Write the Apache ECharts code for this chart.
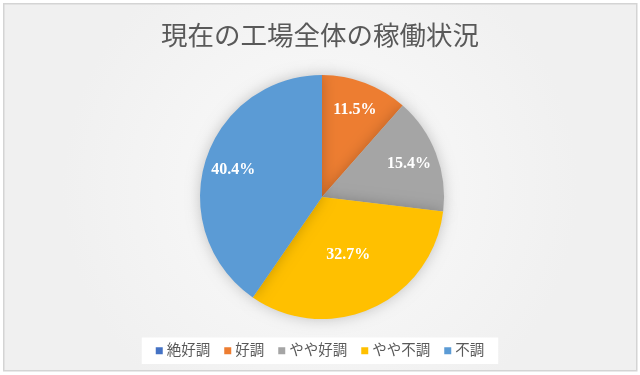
<!DOCTYPE html>
<html><head><meta charset="utf-8">
<script src="https://cdn.jsdelivr.net/npm/echarts@6/dist/echarts.min.js"></script>
<style>html,body{margin:0;padding:0;background:#fff}#c{width:640px;height:375px}</style>
</head><body><div id="c"></div>
<script>
const titleText = '現在の工場全体の稼働状況';
const categories = ['絶好調', '好調', 'やや好調', 'やや不調', '不調'];
const values = [0, 11.5, 15.4, 32.7, 40.4];
const colors = ['#4472C4', '#ED7D31', '#A5A5A5', '#FFC000', '#5B9BD5'];
// label placement: which items get their label near the centre (Excel best-fit)
const innerLabel = [false, false, false, true, false];

const serif = '"Liberation Serif", "DejaVu Serif", "Noto Sans CJK JP", serif';
const chart = echarts.init(document.getElementById('c'));
const fmt = p => p.value > 0 ? p.value.toFixed(1) + '%' : '';
const labelStyle = {color: '#fff', fontFamily: serif, fontWeight: 'bold', fontSize: 16};

chart.setOption({
  animation: false,
  graphic: [{
    type: 'rect', left: 3, top: 3, z: -10,
    shape: {width: 633, height: 367},
    style: {
      fill: new echarts.graphic.RadialGradient(0.5, 0.5, 0.7, [
        {offset: 0, color: '#fbfbfb'}, {offset: 1, color: '#f0f0f0'}
      ]),
      stroke: '#d4d4d4', lineWidth: 1.5
    }
  }],
  title: {
    text: titleText, left: 'center', top: 17,
    textStyle: {fontFamily: '"Noto Sans CJK JP", sans-serif', fontSize: 26.5, fontWeight: 'normal', color: '#595959'}
  },
  legend: {
    data: categories, bottom: 11, left: 'center',
    icon: 'rect', itemWidth: 7, itemHeight: 7, itemGap: 14,
    backgroundColor: '#ffffff', padding: [6, 14],
    textStyle: {fontFamily: serif, fontSize: 14.5, color: '#595959', padding: [0, 0, 0, -1]}
  },
  color: colors,
  series: [{
    type: 'pie', center: [322, 197], radius: [0, 122],
    startAngle: 90, clockwise: true,
    itemStyle: {shadowBlur: 14, shadowColor: 'rgba(0,0,0,0.22)'},
    label: {show: true, position: 'inside', formatter: p => innerLabel[p.dataIndex] ? fmt(p) : '', ...labelStyle},
    labelLine: {show: false},
    emphasis: {disabled: true},
    data: categories.map((n, i) => ({name: n, value: values[i]}))
  }, {
    type: 'pie', center: [322, 197], radius: [0, 180],
    startAngle: 90, clockwise: true, silent: true, legendHoverLink: false,
    itemStyle: {color: 'rgba(0,0,0,0)'},
    label: {show: true, position: 'inside', formatter: p => innerLabel[p.dataIndex] ? '' : fmt(p), ...labelStyle},
    labelLine: {show: false},
    emphasis: {disabled: true},
    tooltip: {show: false},
    data: categories.map((n, i) => ({name: n + ' ', value: values[i]}))
  }]
});
</script></body></html>
